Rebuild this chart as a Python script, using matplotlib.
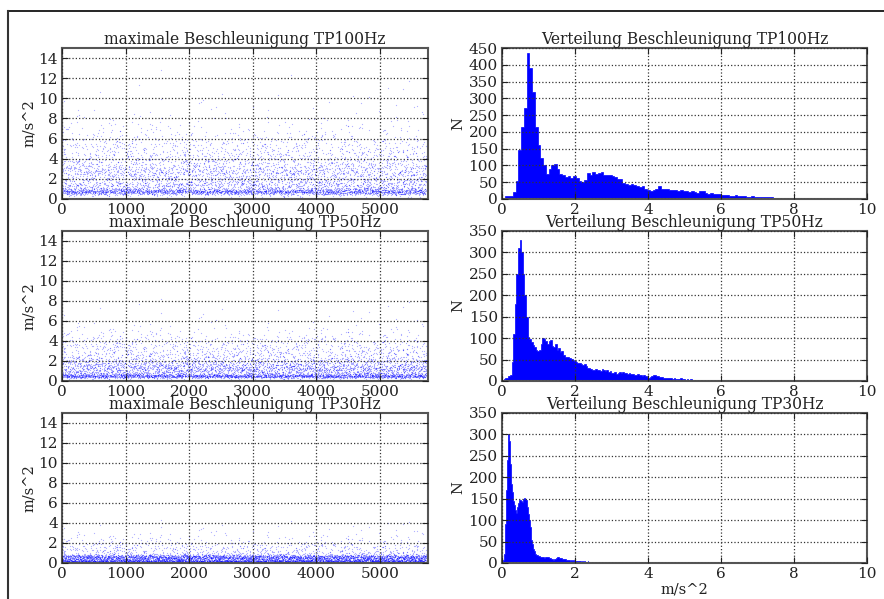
import numpy as np
import matplotlib
matplotlib.use("Agg")
import matplotlib.pyplot as plt
from matplotlib.lines import Line2D

plt.rcParams['font.family'] = ['DejaVu Serif']

# ---------------- data ----------------
titles_left = ["maximale Beschleunigung TP100Hz",
               "maximale Beschleunigung TP50Hz",
               "maximale Beschleunigung TP30Hz"]
titles_right = ["Verteilung Beschleunigung TP100Hz",
                "Verteilung Beschleunigung TP50Hz",
                "Verteilung Beschleunigung TP30Hz"]

# histogram bin widths (m/s^2) and counts per bin, starting at 0
bw_100 = 0.075
counts_100 = [3, 8, 10, 10, 22, 55, 145, 215, 270, 435,
              390, 320, 215, 160, 122, 100, 75, 88, 100, 105,
              88, 75, 72, 65, 70, 62, 68, 62, 55, 50,
              56, 76, 73, 79, 75, 77, 79, 73, 71, 73,
              69, 65, 61, 59, 49, 46, 43, 45, 41, 39,
              37, 39, 31, 27, 23, 26, 29, 39, 29, 31,
              29, 27, 28, 26, 25, 27, 23, 24, 21, 23,
              21, 19, 23, 23, 17, 16, 17, 15, 16, 14,
              13, 12, 11, 10, 9, 11, 9, 8, 9, 7,
              7, 8, 6, 7, 6, 5, 6, 5, 5, 4,
              3, 4, 3, 2, 3, 2, 4, 2, 2, 2,
              2, 1, 2, 1, 2, 1, 1, 2, 1, 1,
              1, 2, 1, 1, 1, 0, 1, 1, 2, 1, 1, 0, 1]
outliers_100 = [10.1, 10.2, 10.3, 10.4, 10.6, 10.9, 11.0, 11.3, 11.7, 12.3, 12.8]

bw_50 = 0.044
counts_50 = [3, 5, 6, 8, 12, 15, 45, 110, 180, 250,
             310, 330, 300, 250, 200, 150, 102, 98, 92, 85,
             79, 73, 71, 73, 86, 101, 99, 93, 87, 93,
             96, 81, 79, 86, 73, 76, 67, 71, 61, 57,
             56, 55, 53, 51, 49, 47, 45, 41, 43, 39,
             37, 39, 35, 31, 31, 27, 25, 26, 27, 25,
             26, 24, 27, 25, 23, 25, 21, 23, 19, 19,
             21, 17, 18, 21, 19, 20, 18, 19, 17, 19,
             16, 17, 15, 14, 16, 13, 14, 12, 13, 11,
             9, 7, 9, 11, 13, 13, 12, 11, 10, 9,
             8, 7, 8, 6, 7, 6, 5, 6, 5, 4,
             5, 6, 4, 5, 3, 4, 3, 4, 3, 2,
             3, 2, 2, 1, 2, 2, 1, 2, 1, 1,
             1, 2, 1, 1, 1, 1, 1, 0, 1, 1,
             1, 0, 1, 1, 0, 1, 0, 1, 0, 1,
             0, 1, 0, 1, 0, 0, 1, 0, 1, 0,
             1, 0, 0, 1, 0, 1, 0, 0, 1, 0,
             0, 1, 0, 0, 1, 0, 0, 0, 1, 0, 0, 1, 0, 0, 0, 0, 1]
outliers_50 = []

bw_30 = 0.023
counts_30 = [3, 8, 20, 45, 90, 170, 240, 300, 285, 255,
             230, 185, 165, 145, 135, 130, 123, 117, 130, 140,
             146, 146, 148, 144, 142, 150, 152, 150, 150, 148,
             130, 115, 100, 85, 66, 54, 44, 33, 27, 22,
             21, 19, 18, 17, 16, 15, 14, 13, 13, 13,
             12, 13, 14, 15, 14, 13, 12, 11, 10, 9,
             9, 8, 9, 10, 11, 12, 13, 13, 12, 11,
             11, 10, 10, 9, 10, 9, 8, 8, 7, 7,
             6, 5, 6, 5, 5, 6, 5, 4, 5, 4,
             4, 5, 4, 4, 3, 4, 4, 3, 4, 3,
             3, 3, 4, 3, 3, 2, 3, 3, 2, 3,
             2, 3, 2, 2, 3, 2, 2, 2, 1, 2,
             2, 1, 2, 2, 1, 2, 1, 1, 2, 1,
             1, 1, 2, 1, 1, 1, 0, 1, 1, 1,
             1, 0, 1, 1, 0, 1, 1, 0, 1, 0,
             1, 0, 1, 0, 1, 0, 0, 1, 0, 1,
             0, 1, 0, 0, 1, 0, 1, 0, 0, 1,
             0, 0, 1, 0, 0, 1, 0, 0, 0, 1, 0, 0, 1, 0, 0, 0, 1]
outliers_30 = []

series = [(bw_100, counts_100, outliers_100, 450),
          (bw_50, counts_50, outliers_50, 350),
          (bw_30, counts_30, outliers_30, 350)]

scatter_xmax = 5760
left_yticks = [0, 2, 4, 6, 8, 10, 12, 14]
left_xticks = [0, 1000, 2000, 3000, 4000, 5000]
right_xticks = [0, 2, 4, 6, 8, 10]


def samples_from_hist(bw, counts, outliers):
    """Expand the read histogram into per-sample values and spread them
    deterministically over the sample index (integer hash order)."""
    vals = []
    for i, c in enumerate(counts):
        for j in range(c):
            vals.append(bw * i + bw * (j + 0.5) / c)
    vals.extend(outliers)
    vals = np.array(vals)
    n = len(vals)
    k = np.arange(n, dtype=np.uint64)
    h = (k + np.uint64(0x9E3779B9)) * np.uint64(0x85EBCA6B)
    h &= np.uint64(0xFFFFFFFF)
    h ^= h >> np.uint64(13)
    h = (h * np.uint64(0xC2B2AE35)) & np.uint64(0xFFFFFFFF)
    h ^= h >> np.uint64(16)
    order = np.argsort(h, kind='stable')
    y = np.empty(n)
    y[order] = vals
    return np.arange(n), y


fig = plt.figure(figsize=(8.84, 5.99), dpi=100)

W, H = 884.0, 599.0
rows = [(48, 199), (231, 381), (413, 563)]
left_x = (62, 428)
right_x = (502, 867)

spine_col = '#555555'
text_col = '#222222'


def style(ax):
    for s in ax.spines.values():
        s.set_color(spine_col)
        s.set_linewidth(1.5)
    ax.tick_params(direction='in', top=True, right=True, labelsize=11,
                   colors=text_col, length=4, width=0.8, pad=3)
    ax.grid(True, linestyle=':', color='#333333', linewidth=0.9)
    ax.set_axisbelow(False)


for r, (bw, counts, outl, ymax) in enumerate(series):
    top, bot = rows[r]
    axl = fig.add_axes([left_x[0] / W, 1 - bot / H, (left_x[1] - left_x[0]) / W, (bot - top) / H])
    axr = fig.add_axes([right_x[0] / W, 1 - bot / H, (right_x[1] - right_x[0]) / W, (bot - top) / H])

    x, y = samples_from_hist(bw, counts, outl)
    axl.plot(x, y, '.', color='b', markersize=1.8, markeredgewidth=0, alpha=0.3)
    axl.set_xlim(0, scatter_xmax)
    axl.set_ylim(0, 15)
    axl.set_yticks(left_yticks)
    axl.set_xticks(left_xticks)
    axl.set_ylabel("m/s^2", fontsize=10.5, color=text_col, labelpad=2)
    axl.set_title(titles_left[r], fontsize=11.2, color=text_col, pad=3)
    style(axl)

    edges = np.arange(len(counts) + 1) * bw
    centers = (edges[:-1] + edges[1:]) / 2
    axr.hist(centers, bins=edges, weights=counts, histtype='stepfilled',
             color='b', edgecolor='b', linewidth=0.5)
    axr.set_xlim(0, 10)
    axr.set_ylim(0, ymax)
    axr.set_yticks(np.arange(0, ymax + 1, 50))
    axr.set_xticks(right_xticks)
    axr.set_ylabel("N", fontsize=10.5, color=text_col, labelpad=2)
    axr.set_title(titles_right[r], fontsize=11.2, color=text_col, pad=3)
    style(axr)
    if r == 2:
        axr.set_xlabel("m/s^2", fontsize=10.5, color=text_col, labelpad=1)

# screenshot frame lines
fig.add_artist(Line2D([8 / W, 1.0], [1 - 11 / H, 1 - 11 / H], transform=fig.transFigure,
                      color='black', linewidth=1.2))
fig.add_artist(Line2D([8 / W, 8 / W], [1 - 11 / H, 0.0], transform=fig.transFigure,
                      color='#333333', linewidth=1.5))

fig.savefig("out.png", dpi=100)
